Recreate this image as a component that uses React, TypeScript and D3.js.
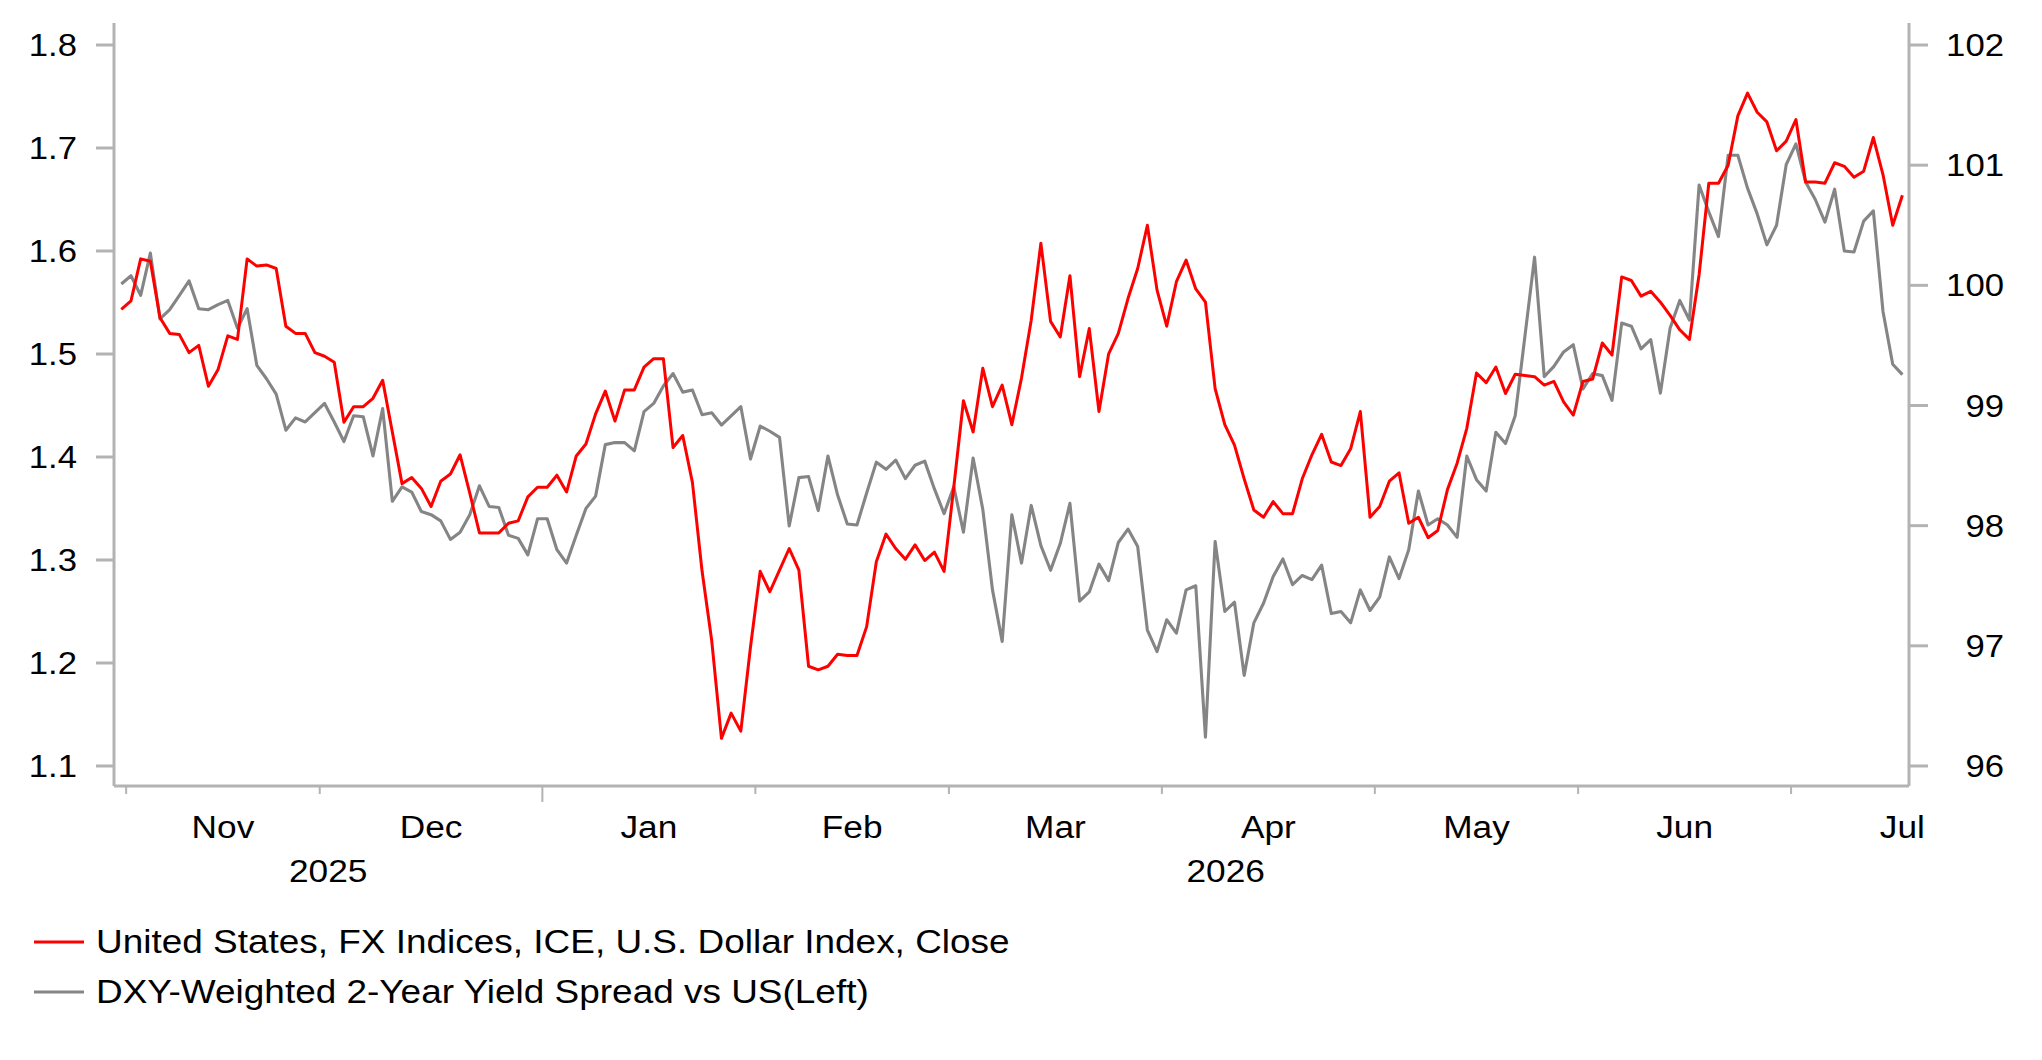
import React from "react";
import * as d3 from "d3";

// trading days, index 0 = 31 Oct 2025 ... index 184 = 16 Jul 2026
const dxyClose = [
  99.8, 99.87, 100.22, 100.2, 99.73, 99.6, 99.59, 99.44, 99.5, 99.16,
  99.3, 99.58, 99.55, 100.22, 100.16, 100.17, 100.14, 99.66, 99.6, 99.6,
  99.44, 99.41, 99.36, 98.86, 98.99, 98.99, 99.06, 99.21, 98.78, 98.35,
  98.4, 98.31, 98.16, 98.37, 98.43, 98.59, 98.27, 97.94, 97.94, 97.94,
  98.02, 98.04, 98.24, 98.32, 98.32, 98.42, 98.28, 98.58, 98.68, 98.93,
  99.12, 98.87, 99.13, 99.13, 99.32, 99.39, 99.39, 98.65, 98.75, 98.36,
  97.62, 97.04, 96.23, 96.44, 96.29, 96.99, 97.62, 97.45, 97.63, 97.81,
  97.63, 96.83, 96.8, 96.83, 96.93, 96.92, 96.92, 97.16, 97.7, 97.93,
  97.81, 97.72, 97.84, 97.71, 97.78, 97.62, 98.32, 99.04, 98.78, 99.31,
  98.99, 99.17, 98.84, 99.23, 99.71, 100.35, 99.7, 99.57, 100.08, 99.24,
  99.64, 98.95, 99.43, 99.6, 99.89, 100.14, 100.5, 99.96, 99.66, 100.03,
  100.21, 99.97, 99.86, 99.14, 98.84, 98.67, 98.39, 98.13, 98.07, 98.2,
  98.1, 98.1, 98.39, 98.59, 98.76, 98.53, 98.5, 98.64, 98.95, 98.07,
  98.16, 98.37, 98.44, 98.02, 98.07, 97.9, 97.96, 98.3, 98.52, 98.81,
  99.27, 99.19, 99.32, 99.1, 99.26, 99.25, 99.24, 99.17, 99.2, 99.03,
  98.92, 99.2, 99.22, 99.52, 99.42, 100.07, 100.04, 99.91, 99.95, 99.86,
  99.75, 99.63, 99.55, 100.09, 100.85, 100.85, 101.0, 101.41, 101.6, 101.44,
  101.36, 101.12, 101.2, 101.38, 100.86, 100.86, 100.85, 101.02, 100.99, 100.9,
  100.95, 101.23, 100.92, 100.5, 100.75,
];

const yieldSpread = [
  1.568, 1.576, 1.557, 1.598, 1.534, 1.543, 1.557, 1.571, 1.544, 1.543,
  1.548, 1.552, 1.525, 1.544, 1.489, 1.476, 1.461, 1.426, 1.438, 1.434,
  1.443, 1.452, 1.434, 1.415, 1.44, 1.439, 1.401, 1.447, 1.357, 1.371,
  1.366, 1.347, 1.344, 1.338, 1.32, 1.327, 1.344, 1.372, 1.352, 1.351,
  1.324, 1.321, 1.305, 1.34, 1.34, 1.31, 1.297, 1.324, 1.35, 1.362,
  1.412, 1.414, 1.414, 1.406, 1.444, 1.452, 1.469, 1.481, 1.463, 1.465,
  1.441, 1.443, 1.431, 1.44, 1.449, 1.398, 1.43, 1.425, 1.419, 1.333,
  1.38, 1.381, 1.348, 1.401, 1.363, 1.335, 1.334, 1.365, 1.395, 1.388,
  1.397, 1.379, 1.392, 1.396, 1.369, 1.345, 1.371, 1.327, 1.399, 1.349,
  1.271, 1.221, 1.344, 1.297, 1.353, 1.314, 1.29, 1.316, 1.355, 1.26,
  1.269, 1.296, 1.28, 1.317, 1.33, 1.313, 1.232, 1.211, 1.242, 1.229,
  1.271, 1.275, 1.128, 1.318, 1.25, 1.259, 1.188, 1.239, 1.258, 1.284,
  1.301, 1.276, 1.285, 1.281, 1.295, 1.248, 1.25, 1.239, 1.271, 1.251,
  1.264, 1.303, 1.282, 1.31, 1.367, 1.334, 1.34, 1.334, 1.322, 1.401,
  1.378, 1.367, 1.424, 1.413, 1.44, 1.517, 1.594, 1.478, 1.488, 1.502,
  1.509, 1.466, 1.481, 1.479, 1.455, 1.53, 1.527, 1.505, 1.514, 1.462,
  1.525, 1.552, 1.533, 1.664, 1.638, 1.614, 1.693, 1.693, 1.661, 1.636,
  1.606, 1.625, 1.684, 1.704, 1.667, 1.65, 1.628, 1.66, 1.6, 1.599,
  1.629, 1.639, 1.541, 1.49, 1.48,
];

// months after the first point (31 Oct), with their number of trading days
const monthLabels = ["Nov", "Dec", "Jan", "Feb", "Mar", "Apr", "May", "Jun", "Jul"];
const monthDays = [20, 23, 22, 20, 22, 22, 21, 22, 23];
const yearLabels = ["2025", "2026"];
const yearMonthCount = [2, 7];

const leftTicks = [1.1, 1.2, 1.3, 1.4, 1.5, 1.6, 1.7, 1.8];
const rightTicks = [96, 97, 98, 99, 100, 101, 102];

const seriesNames = [
  "United States, FX Indices, ICE, U.S. Dollar Index, Close",
  "DXY-Weighted 2-Year Yield Spread vs US(Left)",
];
const seriesColors = ["#ff0000", "#858585"];

const W = 2042;
const H = 1060;
const FONT = "'Liberation Sans', Arial, Helvetica, sans-serif";
const SX = 1.12;
const AXIS = "#b3b3b3";

const T = ({ x, y, size, anchor = "start", children }: any) => (
  <text
    transform={`translate(${x},${y}) scale(${SX},1)`}
    fontSize={size}
    fontFamily={FONT}
    textAnchor={anchor}
    fill="#000"
  >
    {children}
  </text>
);

export default function App() {
  const left = 114;
  const right = 1909;
  const top = 23;
  const bottom = 786;

  const x = d3.scaleLinear().domain([0, dxyClose.length - 1]).range([121.3, 1902.4]);
  const yL = d3.scaleLinear().domain([1.1, 1.8]).range([766, 45]);
  const yR = d3.scaleLinear().domain([96, 102]).range([766, 45]);

  const redLine = d3
    .line<number>()
    .x((_, i) => x(i))
    .y((d) => yR(d));
  const grayLine = d3
    .line<number>()
    .x((_, i) => x(i))
    .y((d) => yL(d));

  // month boundaries (between last day of previous month and first day of next)
  let start = 0.5;
  const months = monthLabels.map((m, k) => {
    const s = start;
    start += monthDays[k];
    return { label: m, start: s, center: s + monthDays[k] / 2 };
  });
  const maxIdx = x.invert(right);

  let mi = 0;
  const years = yearLabels.map((y, k) => {
    const first = months[mi];
    mi += yearMonthCount[k];
    const next = months[mi];
    const x0 = k === 0 ? left : x(first.start);
    const x1 = next ? x(next.start) : right;
    return { label: y, cx: (x0 + x1) / 2 };
  });

  return (
    <div style={{ position: "fixed", left: 0, top: 0, width: W, height: H, background: "#fff" }}>
      <svg width={W} height={H} viewBox={`0 0 ${W} ${H}`}>
        <rect width={W} height={H} fill="#fff" />

        {/* lines: gray below, red on top */}
        <path d={grayLine(yieldSpread) || ""} fill="none" stroke={seriesColors[1]} strokeWidth={3.1} strokeLinejoin="round" />
        <path d={redLine(dxyClose) || ""} fill="none" stroke={seriesColors[0]} strokeWidth={3} strokeLinejoin="round" />

        {/* left axis */}
        <line x1={left} x2={left} y1={top} y2={bottom} stroke={AXIS} strokeWidth={3} />
        {leftTicks.map((t) => (
          <g key={t}>
            <line x1={96} x2={left} y1={yL(t)} y2={yL(t)} stroke={AXIS} strokeWidth={3} />
            <T x={77} y={yL(t) + 11} size={31} anchor="end">
              {d3.format(".1f")(t)}
            </T>
          </g>
        ))}

        {/* right axis */}
        <line x1={right} x2={right} y1={top} y2={bottom} stroke={AXIS} strokeWidth={3} />
        {rightTicks.map((t) => (
          <g key={t}>
            <line x1={right} x2={1928} y1={yR(t)} y2={yR(t)} stroke={AXIS} strokeWidth={3} />
            <T x={2004} y={yR(t) + 11} size={31} anchor="end">
              {t}
            </T>
          </g>
        ))}

        {/* bottom axis */}
        <line x1={left} x2={right} y1={bottom} y2={bottom} stroke={AXIS} strokeWidth={3} />
        {months
          .filter((m) => m.start <= maxIdx)
          .map((m) => (
            <line
              key={m.label}
              x1={x(m.start)}
              x2={x(m.start)}
              y1={bottom}
              y2={m.label === "Jan" ? 802 : 794}
              stroke={AXIS}
              strokeWidth={2}
            />
          ))}
        {months.map((m) => (
          <T key={m.label} x={x(m.center)} y={837.5} size={31.5} anchor="middle">
            {m.label}
          </T>
        ))}
        {years.map((y) => (
          <T key={y.label} x={y.cx} y={881.5} size={31.5} anchor="middle">
            {y.label}
          </T>
        ))}

        {/* legend */}
        {seriesNames.map((n, i) => (
          <g key={n}>
            <line x1={34} x2={84} y1={942 + i * 50} y2={942 + i * 50} stroke={seriesColors[i]} strokeWidth={3} />
            <T x={96} y={952.5 + i * 50} size={33}>
              {n}
            </T>
          </g>
        ))}
      </svg>
    </div>
  );
}
